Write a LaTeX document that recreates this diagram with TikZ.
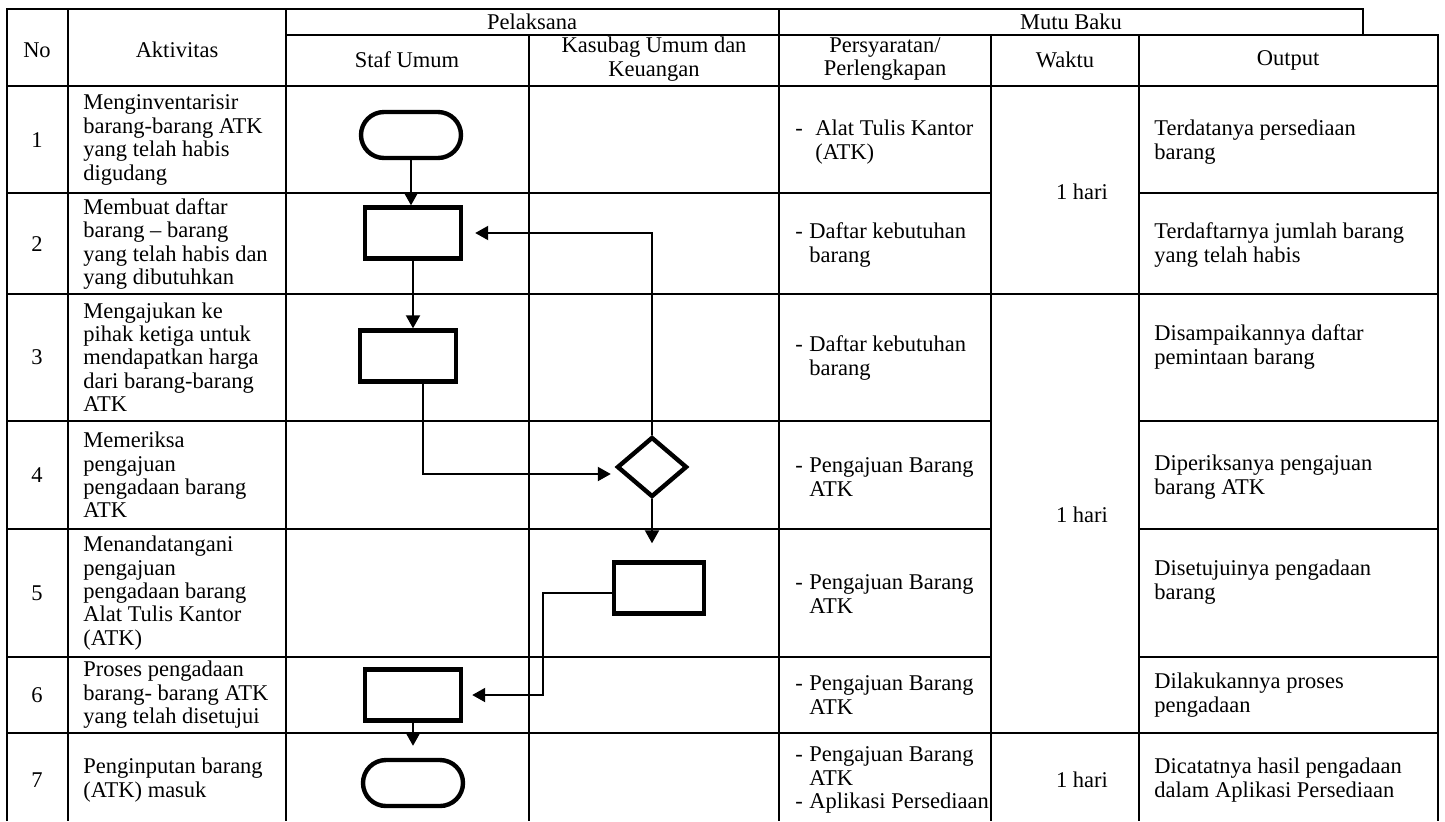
\documentclass[tikz,border=0pt]{standalone}
\usepackage{fontspec}
\setmainfont{Liberation Serif}
\usetikzlibrary{arrows.meta,shapes.geometric}
\newcommand{\dsh}[1][7pt]{\makebox[#1][l]{-}}
\newcommand{\ind}[1][7pt]{\hspace*{#1}}

\begin{document}
\begin{tikzpicture}[x=0.5pt,y=-0.5pt,
        grid/.style={line width=1pt},
        txt/.style={font=\fontsize{11.25}{11.7}\selectfont,align=left,anchor=west,inner sep=0pt},
        hdr/.style={font=\fontsize{11.25}{11.7}\selectfont,align=center,inner sep=0pt},
        term/.style={rectangle,rounded corners=11.5pt,draw,line width=2.2pt,minimum width=50pt,minimum height=23pt},
        proc/.style={rectangle,draw,line width=2.2pt,minimum width=48pt,minimum height=25.5pt},
        dec/.style={diamond,draw,line width=2.2pt,minimum width=35pt,minimum height=30pt,inner sep=0pt},
        arr/.style={-{Triangle[length=6.5pt,width=7pt]},line width=1pt}]

        \useasboundingbox (0,0) rectangle (1445,821);

        % table
        \draw[grid] (7,821) -- (7,9) -- (1363,9) -- (1363,35);
        \draw[grid] (286,35) -- (1438,35) -- (1438,821);
        \draw[grid] (68,9) -- (68,821);
        \draw[grid] (286,9) -- (286,821);
        \draw[grid] (529,35) -- (529,821);
        \draw[grid] (779,9) -- (779,821);
        \draw[grid] (991,35) -- (991,821);
        \draw[grid] (1139,35) -- (1139,821);
        \draw[grid] (7,86) -- (1438,86);
        \draw[grid] (7,193) -- (991,193) (1139,193) -- (1438,193);
        \draw[grid] (7,294) -- (1438,294);
        \draw[grid] (7,421) -- (991,421) (1139,421) -- (1438,421);
        \draw[grid] (7,529) -- (991,529) (1139,529) -- (1438,529);
        \draw[grid] (7,657) -- (991,657) (1139,657) -- (1438,657);
        \draw[grid] (7,733) -- (1438,733);

        % header
        \node[hdr] (hno)  at (37,50)   {No};
        \node[hdr] (hakt) at (177,50)  {Aktivitas};
        \node[hdr] (hpel) at (532,22)  {Pelaksana};
        \node[hdr] (hmut) at (1071,22) {Mutu Baku};
        \node[hdr] (hstf) at (407,60)  {Staf Umum};
        \node[hdr] (hkas) at (654,59)  {Kasubag Umum dan\\Keuangan};
        \node[hdr] (hsya) at (885,59)  {Persyaratan/\\Perlengkapan};
        \node[hdr] (hwkt) at (1065,60) {Waktu};
        \node[hdr] (hout) at (1288,60) {Output};

        % nomor
        \node[hdr] (n1) at (37,140) {1};
        \node[hdr] (n2) at (37,244) {2};
        \node[hdr] (n3) at (37,357) {3};
        \node[hdr] (n4) at (37,475) {4};
        \node[hdr] (n5) at (37,593) {5};
        \node[hdr] (n6) at (37,695) {6};
        \node[hdr] (n7) at (37,780) {7};

        % aktivitas
        \node[txt] (a1) at (83,140) {Menginventarisir\\barang-barang ATK\\yang telah habis\\digudang};
        \node[txt] (a2) at (83,244) {Membuat daftar\\barang – barang\\yang telah habis dan\\yang dibutuhkan};
        \node[txt] (a3) at (83,357) {Mengajukan ke\\pihak ketiga untuk\\mendapatkan harga\\dari barang-barang\\ATK};
        \node[txt] (a4) at (83,475) {Memeriksa\\pengajuan\\pengadaan barang\\ATK};
        \node[txt] (a5) at (83,593) {Menandatangani\\pengajuan\\pengadaan barang\\Alat Tulis Kantor\\(ATK)};
        \node[txt] (a6) at (83,695) {Proses pengadaan\\barang- barang ATK\\yang telah disetujui};
        \node[txt] (a7) at (83,780) {Penginputan barang\\(ATK) masuk};

        % persyaratan
        \node[txt] (p1) at (795,142) {\dsh[10pt]Alat Tulis Kantor\\\ind[10pt](ATK)};
        \node[txt] (p2) at (795,245) {\dsh Daftar kebutuhan\\\ind barang};
        \node[txt] (p3) at (795,358) {\dsh Daftar kebutuhan\\\ind barang};
        \node[txt] (p4) at (795,477) {\dsh Pengajuan Barang\\\ind ATK};
        \node[txt] (p5) at (795,594) {\dsh Pengajuan Barang\\\ind ATK};
        \node[txt] (p6) at (795,695) {\dsh Pengajuan Barang\\\ind ATK};
        \node[txt] (p7) at (795,780) {\dsh Pengajuan Barang\\\ind ATK\\\dsh Aplikasi Persediaan};

        % waktu
        \node[hdr] (w1) at (1082,192) {1 hari};
        \node[hdr] (w2) at (1082,515) {1 hari};
        \node[hdr] (w3) at (1082,780) {1 hari};

        % output
        \node[txt] (o1) at (1154,142) {Terdatanya persediaan\\barang};
        \node[txt] (o2) at (1154,245) {Terdaftarnya jumlah barang\\yang telah habis};
        \node[txt] (o3) at (1154,347) {Disampaikannya daftar\\pemintaan barang};
        \node[txt] (o4) at (1154,477) {Diperiksanya pengajuan\\barang ATK};
        \node[txt] (o5) at (1154,582) {Disetujuinya pengadaan\\barang};
        \node[txt] (o6) at (1154,695) {Dilakukannya proses\\pengadaan};
        \node[txt] (o7) at (1154,780) {Dicatatnya hasil pengadaan\\dalam Aplikasi Persediaan};

        % bagan alir
        \node[term] (t1) at (411,135) {};
        \node[proc] (b2) at (413,233) {};
        \node[proc] (b3) at (408,356) {};
        \node[dec]  (d4) at (652,467) {};
        \node[proc,minimum width=45pt] (b5) at (659,588) {};
        \node[proc] (b6) at (413,695) {};
        \node[term] (t7) at (413,783) {};
        \coordinate (k5) at (543,640);

        \draw[arr] (t1.south) -- (t1.south |- b2.north);
        \draw[arr] (b2.south) -- (b2.south |- b3.north);
        \draw[arr,shorten >=2pt] ([xshift=7.5pt]b3.south) |- ([yshift=-3.5pt]d4.west);
        \draw[arr,shorten >=6pt] (d4.north) |- (b2.east);
        \draw[arr,shorten >=8.5pt] (d4.south) -- (d4.south |- b5.north);
        \draw[arr,shorten >=4.5pt] ([yshift=-2.5pt]b5.west) -| (k5) |- (b6.east);
        \draw[arr,shorten >=6pt] (b6.south) -- (b6.south |- t7.north);

    \end{tikzpicture}
\end{document}
